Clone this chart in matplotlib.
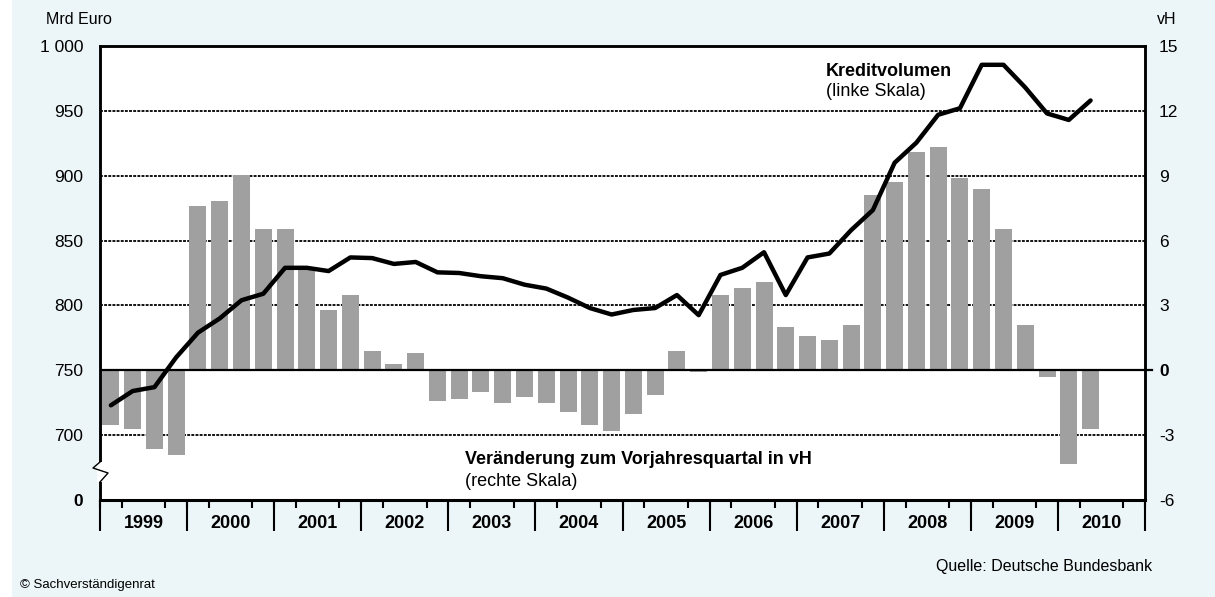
import matplotlib
matplotlib.use("Agg")
import matplotlib.pyplot as plt
import matplotlib.transforms as mtransforms
from matplotlib.patches import Rectangle

plt.rcParams['font.family'] = ['Liberation Sans', 'DejaVu Sans']

# ---- data ----
years = list(range(1999, 2011))
quarters = [f"{y} Q{q}" for y in years for q in range(1, 5)]

# Veränderung zum Vorjahresquartal in vH (rechte Skala), 1999Q1 .. 2010Q2
change_vh = [-2.53, -2.72, -3.64, -3.90,
             7.60, 7.83, 9.05, 6.53,
             6.53, 4.64, 2.79, 3.48,
             0.89, 0.29, 0.80, -1.41,
             -1.31, -0.99, -1.50, -1.22,
             -1.50, -1.91, -2.51, -2.79,
             -2.00, -1.13, 0.89, -0.10,
             3.48, 3.80, 4.08, 2.00,
             1.59, 1.40, 2.10, 8.11,
             8.71, 10.10, 10.33, 8.89,
             8.38, 6.53, 2.10, -0.30,
             -4.32, -2.70]

# Kreditvolumen in Mrd Euro (linke Skala), 1999Q1 .. 2010Q2
credit_bn = [723.0, 734.0, 737.0, 760.0,
             779.0, 790.0, 804.0, 809.0,
             829.0, 829.0, 826.5, 837.0,
             836.5, 832.0, 833.5, 825.5,
             825.0, 822.5, 821.0, 816.0,
             813.0, 806.0, 798.0, 793.0,
             796.5, 798.0, 808.0, 792.5,
             823.5, 829.0, 841.0, 808.0,
             837.0, 840.0, 858.0, 873.5,
             910.0, 925.5, 947.0, 952.0,
             985.5, 985.5, 968.0, 948.0,
             943.0, 958.0]

left_ticks = [650, 700, 750, 800, 850, 900, 950, 1000]
left_labels = ["0", "700", "750", "800", "850", "900", "950", "1 000"]
right_ticks = [-6, -3, 0, 3, 6, 9, 12, 15]
right_labels = ["-6", "-3", "0", "3", "6", "9", "12", "15"]

# ---- figure ----
W, H = 1215, 597
fig = plt.figure(figsize=(W / 100, H / 100), dpi=100)
fig.patch.set_facecolor("white")
bg = "#ECF5F8"
fig.add_artist(Rectangle((12 / W, 0), 1 - 12 / W, 1, transform=fig.transFigure,
                         facecolor=bg, edgecolor="none", zorder=-10))

x0, x1, ytop, ybot = 100, 1145, 46, 500
rect = [x0 / W, 1 - ybot / H, (x1 - x0) / W, (ybot - ytop) / H]
ax_l = fig.add_axes(rect)
ax_r = ax_l.twinx()
ax_l.set_zorder(ax_r.get_zorder() + 1)
ax_l.patch.set_visible(False)
ax_r.patch.set_visible(True)
ax_r.patch.set_facecolor("white")

n = len(quarters)
xq = list(range(n))

# bars (right scale)
ax_r.bar(xq[:len(change_vh)], change_vh, width=0.78, color="#A0A0A0", zorder=2)
ax_r.set_ylim(-6, 15)
for g in [-3, 3, 6, 9, 12]:
    ax_r.axhline(g, color="black", lw=1.3, linestyle=(0, (1.6, 0.7)), zorder=1)
ax_r.axhline(0, color="black", lw=1.6, zorder=3)
tr = mtransforms.blended_transform_factory(ax_r.transAxes, ax_r.transData)
ax_r.plot([1.0, 1.007], [0, 0], color="black", lw=1.6, transform=tr, clip_on=False, zorder=5)

# line (left scale)
ax_l.plot(xq[:len(credit_bn)], credit_bn, color="black", lw=3.2,
          solid_joinstyle="round", solid_capstyle="round", zorder=4)
ax_l.set_ylim(650, 1000)
ax_l.set_xlim(-0.5, n - 0.5)

# y ticks
ax_l.set_yticks(left_ticks)
ax_l.set_yticklabels(left_labels)
ax_l.tick_params(axis="y", length=0, pad=12, labelsize=12.5)
ax_r.set_yticks(right_ticks)
ax_r.set_yticklabels(right_labels)
ax_r.tick_params(axis="y", length=0, pad=10, labelsize=12.5)
for lab in ax_l.get_yticklabels() + ax_r.get_yticklabels():
    if lab.get_text() == "0":
        lab.set_fontweight("bold")

# x ticks: year labels at centres, quarter ticks (short)
year_centres = [4 * i + 1.5 for i in range(len(years))]
ax_l.set_xticks(year_centres)
ax_l.set_xticklabels([str(y) for y in years], fontweight="bold", fontsize=13)
ax_l.tick_params(axis="x", which="major", length=0, pad=11)
ax_l.set_xticks([k - 0.5 for k in range(n + 1)], minor=True)
ax_l.tick_params(axis="x", which="minor", length=6, width=1.5, color="black", direction="out")

# long ticks at year boundaries via a secondary x axis
sec = ax_l.secondary_xaxis("bottom")
sec.set_xticks([4 * i - 0.5 for i in range(len(years) + 1)])
sec.set_xticklabels([])
sec.tick_params(axis="x", length=22, width=1.5, color="black", direction="out")
sec.spines["bottom"].set_visible(False)

for ax in (ax_l, ax_r):
    for s in ax.spines.values():
        s.set_color("black")
        s.set_linewidth(1.8)
ax_l.spines["bottom"].set_linewidth(2.2)

# axis break on left spine
brk_y0, brk_y1 = (500 - 482) / (500 - 46), (500 - 462) / (500 - 46)
ax_l.add_patch(Rectangle((-0.003, brk_y0), 0.006, brk_y1 - brk_y0, transform=ax_l.transAxes,
                         facecolor="white", edgecolor="none", clip_on=False, zorder=10))
zz = [(0.0, brk_y1), (-0.0067, (500 - 468) / 454), (0.0077, (500 - 473) / 454), (0.0, brk_y0)]
ax_l.plot([p[0] for p in zz], [p[1] for p in zz], color="black", lw=1.0,
          transform=ax_l.transAxes, clip_on=False, zorder=11)

# texts
def fx(px):
    return px / W

def fy(py):
    return 1 - py / H

fig.text(fx(46), fy(20), "Mrd Euro", fontsize=11.5, va="center", ha="left")
fig.text(fx(1157), fy(20), "vH", fontsize=11.5, va="center", ha="left")
fig.text(fx(826), fy(72), "Kreditvolumen", fontsize=13, fontweight="bold", va="center", ha="left")
fig.text(fx(826), fy(91), "(linke Skala)", fontsize=13, va="center", ha="left")
fig.text(fx(465), fy(460), "Veränderung zum Vorjahresquartal in vH", fontsize=13,
         fontweight="bold", va="center", ha="left")
fig.text(fx(465), fy(481), "(rechte Skala)", fontsize=13, va="center", ha="left")
fig.text(fx(1152), fy(566), "Quelle: Deutsche Bundesbank", fontsize=11.5, va="center", ha="right")
fig.text(fx(20), fy(585), "© Sachverständigenrat", fontsize=9.5, va="center", ha="left")

fig.savefig("out.png", dpi=100, facecolor=fig.get_facecolor())
